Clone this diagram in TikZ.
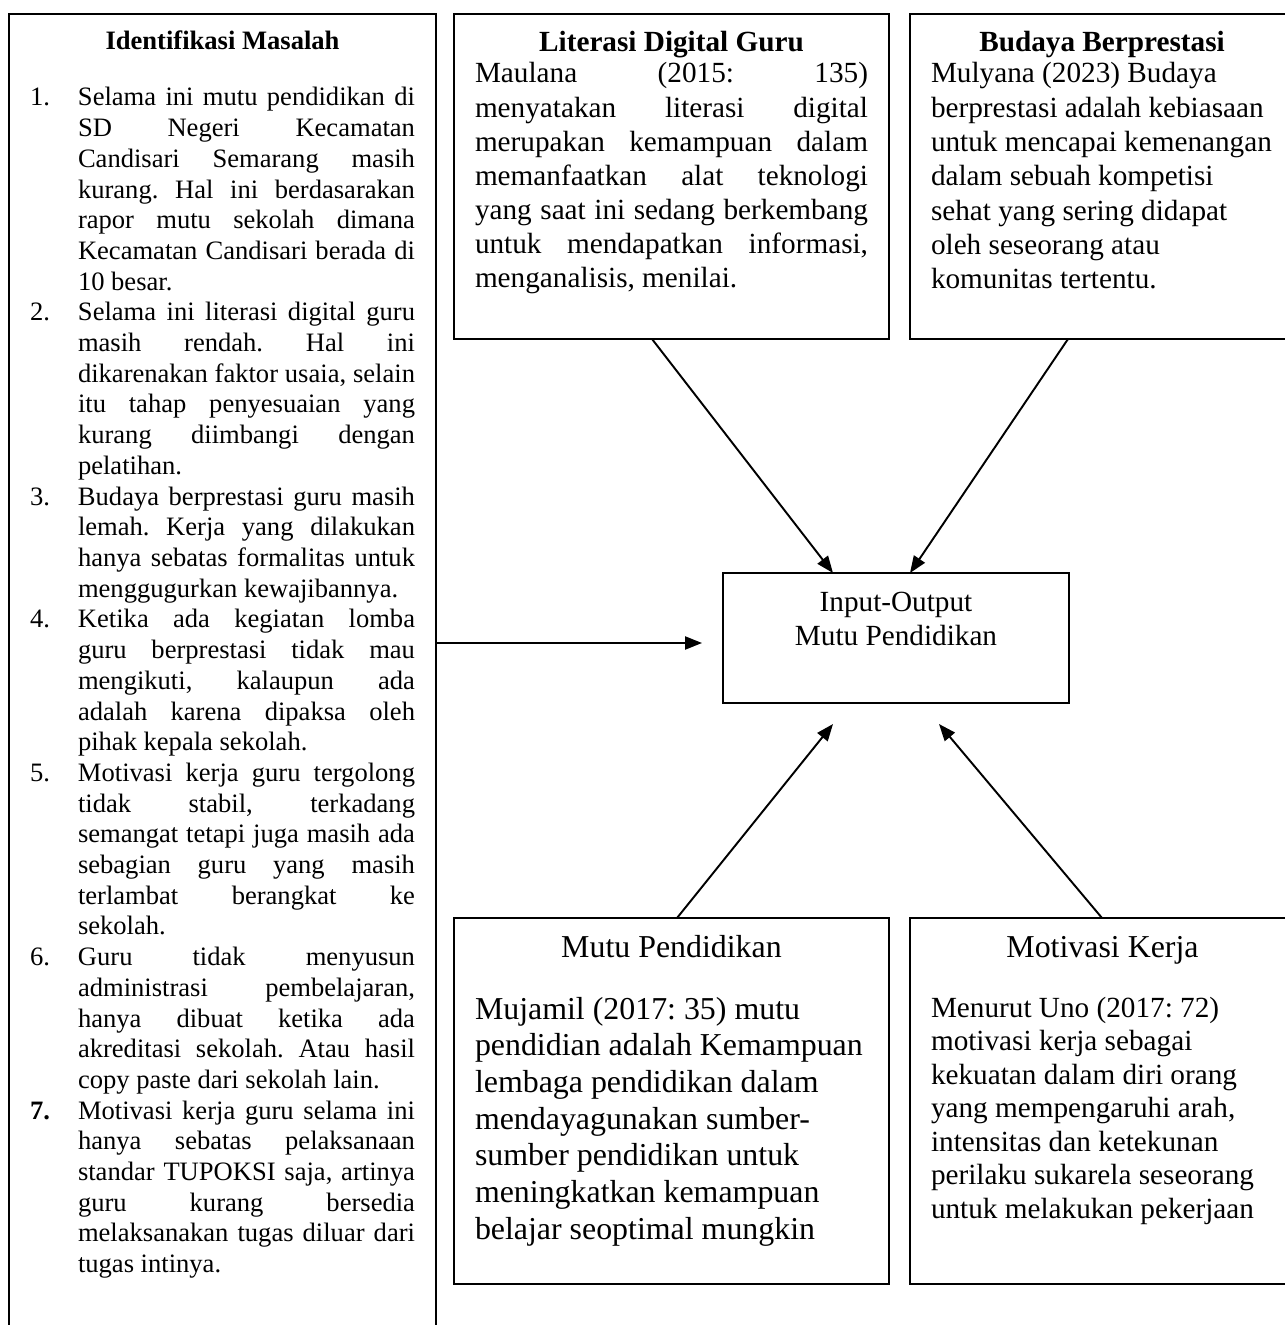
\documentclass[tikz,border=0pt]{standalone}
\usepackage{fontspec}
\setmainfont{Liberation Serif}
\usetikzlibrary{arrows.meta,calc}
\newlength\px
\setlength\px{0.414pt}
\frenchspacing
\newcommand\Lj[2]{\makebox[48\px][l]{#1}\makebox[337\px][s]{#2}}
\newcommand\Lr[2]{\makebox[48\px][l]{#1}#2}
\tikzset{
  frame/.style={draw, line width=0.8pt, rectangle, inner sep=0pt, outer sep=0pt, anchor=north west},
  txt/.style={inner sep=0pt, outer sep=0pt, anchor=base west},
  ttl/.style={inner sep=0pt, outer sep=0pt, anchor=base},
  conn/.style={line width=0.8pt, -{Triangle[length=7pt,width=5.4pt]}},
}
\begin{document}
\begin{tikzpicture}[x=0.414pt, y=-0.414pt]
\useasboundingbox (0,0) rectangle (1285,1325);
\clip (0,0) rectangle (1285,1325);

% frames
\node[frame, minimum width=427\px, minimum height=1340\px] (idm) at (9,14) {};
\node[frame, minimum width=435\px, minimum height=325\px] (lit) at (454,14) {};
\node[frame, minimum width=384\px, minimum height=325\px] (bud) at (910,14) {};
\node[frame, minimum width=346\px, minimum height=130\px] (io) at (723,573) {};
\node[frame, minimum width=435\px, minimum height=366\px] (mutu) at (454,918) {};
\node[frame, minimum width=384\px, minimum height=366\px] (mot) at (910,918) {};

% Identifikasi Masalah
\node[ttl, font=\bfseries\fontsize{11pt}{12.7pt}\selectfont] (idmt) at (222.5,50) {Identifikasi Masalah};
\node[txt] (idml) at (30,106) {\parbox[t]{385\px}{\fontsize{11pt}{12.71pt}\selectfont
\Lj{1.}{Selama ini mutu pendidikan di}\\
\Lj{}{SD Negeri Kecamatan}\\
\Lj{}{Candisari Semarang masih}\\
\Lj{}{kurang. Hal ini berdasarakan}\\
\Lj{}{rapor mutu sekolah dimana}\\
\Lj{}{Kecamatan Candisari berada di}\\
\Lr{}{10 besar.}\\
\Lj{2.}{Selama ini literasi digital guru}\\
\Lj{}{masih rendah. Hal ini}\\
\Lj{}{dikarenakan faktor usaia, selain}\\
\Lj{}{itu tahap penyesuaian yang}\\
\Lj{}{kurang diimbangi dengan}\\
\Lr{}{pelatihan.}\\
\Lj{3.}{Budaya berprestasi guru masih}\\
\Lj{}{lemah. Kerja yang dilakukan}\\
\Lj{}{hanya sebatas formalitas untuk}\\
\Lr{}{menggugurkan kewajibannya.}\\
\Lj{4.}{Ketika ada kegiatan lomba}\\
\Lj{}{guru berprestasi tidak mau}\\
\Lj{}{mengikuti, kalaupun ada}\\
\Lj{}{adalah karena dipaksa oleh}\\
\Lr{}{pihak kepala sekolah.}\\
\Lj{5.}{Motivasi kerja guru tergolong}\\
\Lj{}{tidak stabil, terkadang}\\
\Lj{}{semangat tetapi juga masih ada}\\
\Lj{}{sebagian guru yang masih}\\
\Lj{}{terlambat berangkat ke}\\
\Lr{}{sekolah.}\\
\Lj{6.}{Guru tidak menyusun}\\
\Lj{}{administrasi pembelajaran,}\\
\Lj{}{hanya dibuat ketika ada}\\
\Lj{}{akreditasi sekolah. Atau hasil}\\
\Lr{}{copy paste dari sekolah lain.}\\
\Lj{\textbf{7.}}{Motivasi kerja guru selama ini}\\
\Lj{}{hanya sebatas pelaksanaan}\\
\Lj{}{standar TUPOKSI saja, artinya}\\
\Lj{}{guru kurang bersedia}\\
\Lj{}{melaksanakan tugas diluar dari}\\
\Lr{}{tugas intinya.}}};

% Literasi Digital Guru
\node[ttl, font=\bfseries\fontsize{12.1pt}{14pt}\selectfont] (litt) at (671.5,52) {Literasi Digital Guru};
\node[txt] (litb) at (475,83) {\parbox[t]{393\px}{\fontsize{12.1pt}{14.08pt}\selectfont
\makebox[393\px][s]{Maulana (2015: 135)}\\
\makebox[393\px][s]{menyatakan literasi digital}\\
\makebox[393\px][s]{merupakan kemampuan dalam}\\
\makebox[393\px][s]{memanfaatkan alat teknologi}\\
\makebox[393\px][s]{yang saat ini sedang berkembang}\\
\makebox[393\px][s]{untuk mendapatkan informasi,}\\
menganalisis, menilai.}};

% Budaya Berprestasi
\node[ttl, font=\bfseries\fontsize{12.1pt}{14pt}\selectfont] (budt) at (1102,52) {Budaya Berprestasi};
\node[txt] (budb) at (931,83) {\parbox[t]{350\px}{\raggedright\fontsize{12.1pt}{14.2pt}\selectfont
Mulyana (2023) Budaya\\
berprestasi adalah kebiasaan\\
untuk mencapai kemenangan\\
dalam sebuah kompetisi\\
sehat yang sering didapat\\
oleh seseorang atau\\
komunitas tertentu.}};

% Input-Output
\node[ttl] (iot) at (896,611) {\parbox[t]{320\px}{\centering\fontsize{12.1pt}{14.08pt}\selectfont
Input-Output\\
Mutu Pendidikan}};

% Mutu Pendidikan
\node[ttl, font=\fontsize{13.2pt}{15.2pt}\selectfont] (mutut) at (671.5,957) {Mutu Pendidikan};
\node[txt] (mutub) at (475,1019) {\parbox[t]{410\px}{\raggedright\fontsize{13.2pt}{15.2pt}\selectfont
Mujamil (2017: 35) mutu\\
pendidian adalah Kemampuan\\
lembaga pendidikan dalam\\
mendayagunakan sumber-\\
sumber pendidikan untuk\\
meningkatkan kemampuan\\
belajar seoptimal mungkin}};

% Motivasi Kerja
\node[ttl, font=\fontsize{13.2pt}{15.2pt}\selectfont] (mott) at (1102.5,957) {Motivasi Kerja};
\node[txt] (motb) at (931,1017) {\parbox[t]{350\px}{\raggedright\fontsize{12.1pt}{13.9pt}\selectfont
Menurut Uno (2017: 72)\\
motivasi kerja sebagai\\
kekuatan dalam diri orang\\
yang mempengaruhi arah,\\
intensitas dan ketekunan\\
perilaku sukarela seseorang\\
untuk melakukan pekerjaan}};

% connectors
\coordinate (a1) at ($(lit.south west)+(198,0)$);
\coordinate (b1) at ($(io.north west)+(110,0)$);
\coordinate (a2) at ($(bud.south west)+(158,0)$);
\coordinate (b2) at ($(io.north west)+(187,0)$);
\coordinate (a3) at ($(idm.north east)+(0,629)$);
\coordinate (b3) at ($(io.north west)+(-21,70)$);
\coordinate (a4) at ($(mutu.north west)+(223,0)$);
\coordinate (b4) at ($(io.south west)+(110,21)$);
\coordinate (a5) at ($(mot.north west)+(192,0)$);
\coordinate (b5) at ($(io.south west)+(216,21)$);
\draw[conn] (a1) -- (b1);
\draw[conn] (a2) -- (b2);
\draw[conn] (a3) -- (b3);
\draw[conn] (a4) -- (b4);
\draw[conn] (a5) -- (b5);
\end{tikzpicture}
\end{document}
